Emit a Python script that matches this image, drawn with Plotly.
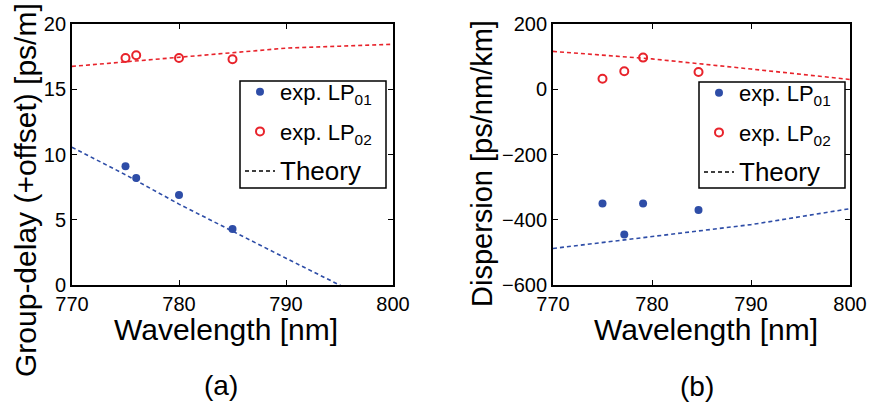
import plotly.graph_objects as go

# ---------------- data ----------------
# Panel (a): group delay
wl_a_exp = [775, 776, 780, 785]
gd_lp01 = [9.1, 8.2, 6.9, 4.3]
gd_lp02 = [17.4, 17.6, 17.4, 17.3]
wl_a_th = [770, 775, 780, 785, 790, 795, 800]
gd_th_lp01 = [10.55, 8.45, 6.2, 4.1, 2.05, 0.0, -2.0]
gd_th_lp02 = [16.75, 17.1, 17.45, 17.85, 18.15, 18.3, 18.45]

# Panel (b): dispersion
wl_b_exp = [775.0, 777.2, 779.1, 784.7]
d_lp01 = [-350, -445, -350, -370]
d_lp02 = [32, 55, 97, 53]
wl_b_th = [770, 780, 790, 800]
d_th_lp01 = [-488, -452, -415, -366]
d_th_lp02 = [116, 93, 62, 30]

x_ticks = [770, 780, 790, 800]
ya_ticks = [0, 5, 10, 15, 20]
yb_ticks = [-600, -400, -200, 0, 200]

BLUE = "#2E4DA7"
RED = "#E8232B"
FONT = "Liberation Sans, Arial, Helvetica, sans-serif"
W, H = 872, 409

fig = go.Figure()

def add_panel(xa, ya, legend, wl_exp, y01, y02, wl_th, t01, t02):
    fig.add_trace(go.Scatter(x=wl_exp, y=y01, mode="markers", xaxis=xa, yaxis=ya,
                             name="exp. LP<sub>01</sub>", legend=legend, legendgroup=legend + "g1",
                             marker=dict(symbol="circle", size=8, color=BLUE)))
    fig.add_trace(go.Scatter(x=wl_exp, y=y02, mode="markers", xaxis=xa, yaxis=ya,
                             name="exp. LP<sub>02</sub>", legend=legend, legendgroup=legend + "g2",
                             marker=dict(symbol="circle-open", size=8, color=RED,
                                         line=dict(width=2, color=RED))))
    fig.add_trace(go.Scatter(x=wl_th, y=t01, mode="lines", xaxis=xa, yaxis=ya,
                             showlegend=False,
                             line=dict(color=BLUE, width=1.6, dash="4px,3px")))
    fig.add_trace(go.Scatter(x=wl_th, y=t02, mode="lines", xaxis=xa, yaxis=ya,
                             showlegend=False,
                             line=dict(color=RED, width=1.6, dash="4px,3px")))
    fig.add_trace(go.Scatter(x=[None], y=[None], mode="lines", xaxis=xa, yaxis=ya,
                             name='<span style="font-size:26px">Theory</span>',
                             legend=legend, legendgroup=legend + "g3",
                             line=dict(color="black", width=1.6, dash="4px,3px")))

add_panel("x", "y", "legend", wl_a_exp, gd_lp01, gd_lp02, wl_a_th, gd_th_lp01, gd_th_lp02)
add_panel("x2", "y2", "legend2", wl_b_exp, d_lp01, d_lp02, wl_b_th, d_th_lp01, d_th_lp02)

def px_x(p):
    return p / W

def px_y(p):
    return (H - p) / H

axis_common = dict(showgrid=False, zeroline=False, showline=True, linecolor="black",
                   linewidth=1.8, mirror="ticks", ticks="inside", ticklen=5,
                   tickwidth=1.2, tickcolor="black", automargin=False,
                   tickfont=dict(family=FONT, size=20, color="black"))

legend_common = dict(xanchor="left", yanchor="top", bgcolor="rgba(0,0,0,0)",
                     borderwidth=0, traceorder="grouped", tracegroupgap=8,
                     font=dict(family=FONT, size=22, color="black"))

ydom = [px_y(285), px_y(24)]
fig.update_layout(
    width=W, height=H,
    margin=dict(l=0, r=0, t=0, b=0, autoexpand=False),
    paper_bgcolor="white", plot_bgcolor="white",
    font=dict(family=FONT, color="black"),
    xaxis=dict(domain=[px_x(72), px_x(393)], range=[770, 800], tickvals=x_ticks,
               anchor="y", **axis_common),
    yaxis=dict(domain=ydom, range=[0, 20], tickvals=ya_ticks, anchor="x", **axis_common),
    xaxis2=dict(domain=[px_x(553), px_x(850)], range=[770, 800], tickvals=x_ticks,
                anchor="y2", **axis_common),
    yaxis2=dict(domain=ydom, range=[-600, 200], tickvals=yb_ticks, anchor="x2", **axis_common),
    legend=dict(x=px_x(240), y=px_y(71), **legend_common),
    legend2=dict(x=px_x(699), y=px_y(72), **legend_common),
    showlegend=True,
)

# legend frames (white box with black border, above the data lines)
for (x0, y0, x1, y1) in [(240, 81, 386, 188), (699, 82, 845, 188)]:
    fig.add_shape(type="rect", xref="paper", yref="paper",
                  x0=px_x(x0), x1=px_x(x1), y0=px_y(y1), y1=px_y(y0),
                  fillcolor="white", line=dict(color="black", width=1.5), layer="above")

ann = [
    dict(text="Wavelength [nm]", x=px_x(226), y=px_y(329), size=30, angle=0),
    dict(text="Wavelength [nm]", x=px_x(706), y=px_y(329), size=30, angle=0),
    dict(text="(a)", x=px_x(221), y=px_y(385), size=28, angle=0),
    dict(text="(b)", x=px_x(697), y=px_y(386), size=28, angle=0),
    dict(text="Group-delay (+offset) [ps/m]", x=px_x(25), y=px_y(190), size=30, angle=-90),
    dict(text="Dispersion [ps/nm/km]", x=px_x(482), y=px_y(163), size=29, angle=-90),
]
for a in ann:
    fig.add_annotation(text=a["text"], x=a["x"], y=a["y"], xref="paper", yref="paper",
                       xanchor="center", yanchor="middle", showarrow=False,
                       textangle=a["angle"],
                       font=dict(family=FONT, size=a["size"], color="black"))

fig.write_html("out.html")
